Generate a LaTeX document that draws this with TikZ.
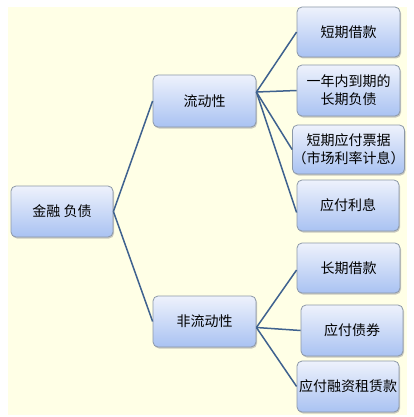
\documentclass[tikz,border=0pt]{standalone}
\usepackage{fontspec}
\setmainfont{Noto Sans CJK SC}
\usetikzlibrary{shadows}
\definecolor{cream}{HTML}{FFFFE6}
\definecolor{boxtop}{HTML}{EEF2FC}
\definecolor{boxbot}{HTML}{A9C2F2}
\definecolor{boxedge}{HTML}{8C98A8}
\definecolor{linkc}{HTML}{3F628F}
\begin{document}
\begin{tikzpicture}[x=1pt,y=-1pt,
 box/.style={draw=boxedge, line width=0.8pt, rounded corners=5pt, top color=boxtop, bottom color=boxbot,
   drop shadow={shadow xshift=1pt, shadow yshift=-1.5pt, fill=gray!70, opacity=0.6},
   font=\fontsize{14}{18}\selectfont, align=center, inner sep=0pt},
 link/.style={draw=linkc, line width=1.5pt}]
\useasboundingbox (0,0) rectangle (413,417);
\fill[white] (0,0) rectangle (413,417);
\fill[cream] (8,7) rectangle (407,415);
\node[box, minimum width=102pt, minimum height=51pt] (root) at (62,211.5) {金融 负债};
\node[box, minimum width=103pt, minimum height=52pt] (l1) at (204.5,101) {流动性};
\node[box, minimum width=103pt, minimum height=51pt] (l2) at (204.5,321.5) {非流动性};
\node[box, minimum width=103pt, minimum height=50pt] (r1) at (348.5,32) {短期借款};
\node[box, minimum width=103pt, minimum height=51pt] (r2) at (348.5,90.5) {一年内到期的\\长期负债};
\node[box, minimum width=103pt, minimum height=49pt] (r3) at (348.5,149.5) {短期应付票据\\（市场利率计息）};
\node[box, minimum width=102pt, minimum height=51pt] (r4) at (348,205.5) {应付利息};
\node[box, minimum width=103pt, minimum height=50pt] (r5) at (348.5,268) {长期借款};
\node[box, minimum width=102pt, minimum height=51pt] (r6) at (352,330.5) {应付债券};
\node[box, minimum width=102pt, minimum height=51pt] (r7) at (348,386.5) {应付融资租赁款};
\draw[link] (root.east) -- (l1.west);
\draw[link] (root.east) -- (l2.west);
\coordinate (c1) at ([yshift=9pt]l1.east);
\coordinate (c2) at ([yshift=-6pt]l2.east);
\draw[link] (c1) -- (r1.west);
\draw[link] (c1) -- (r2.west);
\draw[link] (c1) -- (r3.west);
\draw[link] (c1) -- ([yshift=-7pt]r4.west);
\draw[link] (c2) -- ([yshift=-2pt]r5.west);
\draw[link] (c2) -- (r6.west);
\draw[link] (c2) -- (r7.west);
\end{tikzpicture}
\end{document}
